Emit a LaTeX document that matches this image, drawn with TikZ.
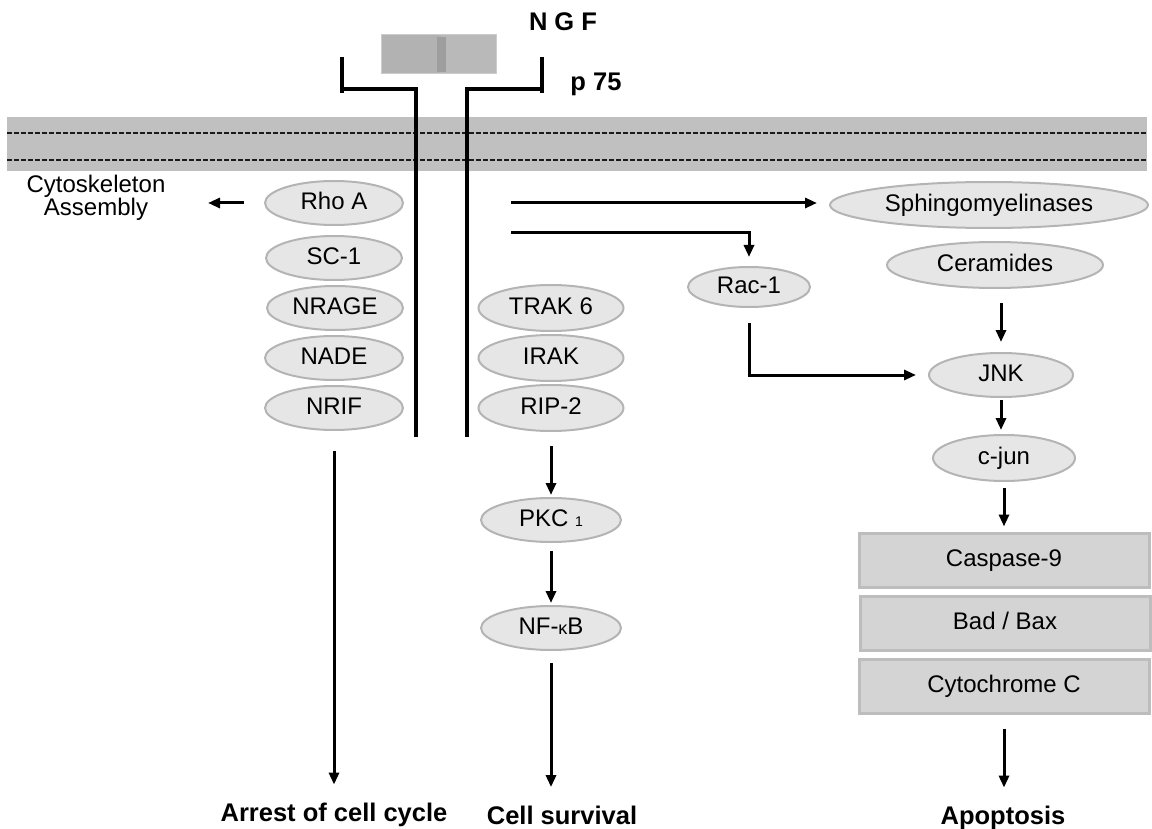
\documentclass[tikz,border=0pt]{standalone}
\usepackage{fontspec}
\setmainfont{Liberation Sans}
\usetikzlibrary{arrows.meta,shapes.geometric}
\definecolor{memb}{HTML}{C0C0C0}
\definecolor{ellfill}{HTML}{E6E6E6}
\definecolor{elldraw}{HTML}{B4B4B4}
\definecolor{boxfill}{HTML}{D4D4D4}
\definecolor{boxdraw}{HTML}{BDBDBD}
\definecolor{ngfa}{HTML}{B2B2B2}
\definecolor{ngfb}{HTML}{B9B9B9}
\definecolor{ngfc}{HTML}{9E9E9E}
\begin{document}
\begin{tikzpicture}[x=1pt,y=-1pt,
  txt/.style={font=\fontsize{24}{22}\selectfont},
  ell/.style={ellipse,draw=elldraw,line width=2pt,fill=ellfill,inner sep=0pt,
    text height=17pt,text depth=4pt,font=\fontsize{24}{28}\selectfont},
  boxn/.style={rectangle,draw=boxdraw,line width=3pt,fill=boxfill,inner sep=0pt,
    minimum width=290pt,minimum height=54pt,text height=17pt,text depth=4pt,
    font=\fontsize{24}{28}\selectfont},
  lbl/.style={font=\fontsize{25.5}{28}\selectfont\bfseries},
  arr/.style={line width=3pt,-{Triangle[length=12pt,width=10pt]}},
  rec/.style={line width=4pt}]
\useasboundingbox (0,0) rectangle (1152,829);
% membrane
\fill[memb] (7,117) rectangle (1147,171);
\draw[black!90,line width=1.8pt,dash pattern=on 5pt off 2pt] (7,133) -- (1147,133);
\draw[black!90,line width=1.8pt,dash pattern=on 5pt off 2pt] (7,160) -- (1147,160);
% NGF
\fill[ngfa] (381,35) rectangle (496,74);
\fill[ngfb] (441,35) rectangle (496,74);
\fill[ngfc] (437,37) rectangle (446,72);
\draw[black!20,line width=1pt] (381,35) rectangle (496,74);
\node[lbl] (ngf) at (563,22) {N G F};
\node[lbl] (p75) at (596,84) {p 75};
% receptor
\draw[rec] (342,57) -- (342,93);
\draw[rec] (342,89) -- (418,89);
\draw[rec] (416,89) -- (416,437);
\draw[rec] (465,89) -- (542,89);
\draw[rec] (542,57) -- (542,93);
\draw[rec] (467,89) -- (467,437);
% left column
\node[ell,minimum width=138pt,minimum height=44pt] (rho) at (334,203) {Rho A};
\node[ell,minimum width=136pt,minimum height=44pt] (sc1) at (334,258) {SC-1};
\node[ell,minimum width=136pt,minimum height=44pt] (nrage) at (335,308) {NRAGE};
\node[ell,minimum width=138pt,minimum height=44pt] (nade) at (334,358) {NADE};
\node[ell,minimum width=138pt,minimum height=44pt] (nrif) at (334,408) {NRIF};
\node[txt,align=center] (cyto) at (96,198) {Cytoskeleton\\Assembly};
\coordinate (cyend) at (208,203);
\draw[arr,shorten <=20pt] (rho.west) -- (cyend);
\node[lbl] (arrest) at (334,815) {Arrest of cell cycle};
\draw[arr,shorten <=20pt,shorten >=15pt] (nrif.south) -- (nrif.south |- arrest.north);
% middle column
\node[ell,minimum width=145pt,minimum height=46pt] (trak) at (551,308) {TRAK 6};
\node[ell,minimum width=145pt,minimum height=46pt] (irak) at (551,358) {IRAK};
\node[ell,minimum width=145pt,minimum height=46pt] (rip) at (551,408) {RIP-2};
\node[ell,minimum width=140pt,minimum height=44pt] (pkc) at (551,520) {PKC {\fontsize{14}{14}\selectfont 1}};
\node[ell,minimum width=140pt,minimum height=44pt] (nfkb) at (551,628) {NF-{\fontsize{18}{18}\selectfont κ}B};
\node[lbl] (surv) at (562,815) {Cell survival};
\draw[arr,shorten <=14pt,shorten >=2pt] (rip) -- (pkc);
\draw[arr,shorten <=8pt,shorten >=2pt] (pkc) -- (nfkb);
\draw[arr,shorten <=12pt,shorten >=15pt] (nfkb.south) -- (nfkb.south |- surv.north);
% right side
\node[ell,minimum width=318pt,minimum height=46pt] (sph) at (989,205) {Sphingomyelinases};
\node[ell,minimum width=216pt,minimum height=46pt] (cer) at (995,265) {Ceramides};
\node[ell,minimum width=122pt,minimum height=40pt] (rac) at (749,287) {Rac-1};
\node[ell,minimum width=144pt,minimum height=44pt] (jnk) at (1001,375) {JNK};
\node[ell,minimum width=142pt,minimum height=46pt] (cjun) at (1004,458) {c-jun};
\node[boxn] (casp) at (1004,560) {Caspase-9};
\node[boxn] (bad) at (1005,623) {Bad / Bax};
\node[boxn] (cytc) at (1004,686) {Cytochrome C};
\node[lbl] (apop) at (1003,818) {Apoptosis};
\coordinate (s1) at (511,203);
\coordinate (s2) at (511,233);
\draw[arr,shorten >=12pt] (s1) -- (s1 -| sph.west);
\draw[arr,shorten >=9pt] (s2) -| (rac.north);
\draw[arr,shorten >=12pt] ([yshift=-15pt]rac.south) |- (jnk.west);
\draw[arr,shorten <=14pt,shorten >=10pt] (cer.south -| jnk.north) -- (jnk.north);
\draw[arr,shorten <=2pt,shorten >=4pt] (jnk) -- (jnk.south |- cjun.north);
\draw[arr,shorten <=6pt,shorten >=5pt] (cjun.south) -- (cjun.south |- casp.north);
\draw[arr,shorten <=14pt,shorten >=15pt] (cytc.south) -- (cytc.south |- apop.north);
\end{tikzpicture}
\end{document}
